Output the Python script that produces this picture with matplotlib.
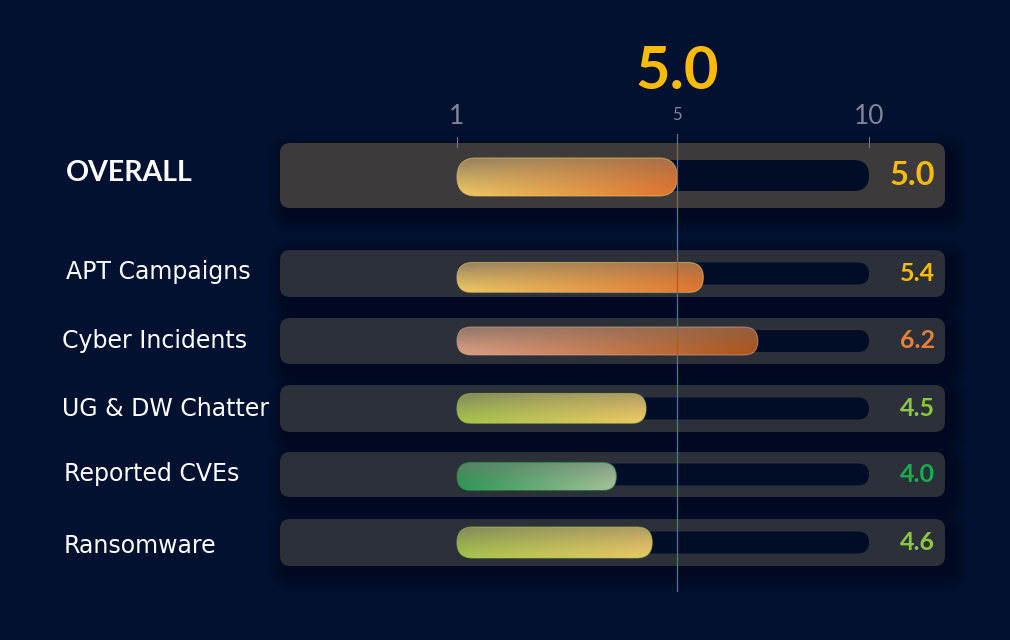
import numpy as np
import matplotlib
matplotlib.use("Agg")
import matplotlib.pyplot as plt
from matplotlib.patches import FancyBboxPatch
from matplotlib.colors import to_rgb

# ---------------- data ----------------
categories = ["OVERALL", "APT Campaigns", "Cyber Incidents",
              "UG & DW Chatter", "Reported CVEs", "Ransomware"]
scores = [5.0, 5.4, 6.2, 4.5, 4.0, 4.6]
headline_score = 5.0
scale_labels = ["1", "5", "10"]

# ---------------- styles / layout (pixels) ----------------
W, H = 1010, 640
BG = "#01112f"
FONT = ["Lato", "DejaVu Sans"]
LABEL_FONT = ["DejaVu Sans"]
value_colors = ["#fbbb00", "#fbbb00", "#ea7f3b", "#8dc63f", "#16ac4f", "#8dc63f"]
grad_left = ["#ecc863", "#ecc863", "#dba084", "#a3c44c", "#2a9853", "#a3c44c"]
grad_right = ["#e0732e", "#e0752f", "#ad5419", "#eec766", "#a6c29c", "#eec766"]
mute_cols = ["#7a6a5e", "#7a6a5e", "#7a6a62", "#7a7660", "#6a7a6c", "#7a7660"]
panel_cols = ["#3d3a3b", "#2c3139", "#2c3139", "#2c3139", "#2c3139", "#2c3139"]
panel_rows = [(143, 208), (250, 297), (318, 364), (385, 432), (452, 497), (519, 566)]
track_h = [31, 22, 22, 22, 22, 22]
bar_h = [38, 30, 28, 30, 28, 31]
bar_dy = [1.5, 4, 0, 0, 2, 0]
label_x = [66, 66, 62, 62, 64, 64]
label_y = [173, 272, 341, 409, 474, 546]
PANEL_X0, PANEL_X1 = 280, 945
TRACK_X0, TRACK_X1 = 457, 869
TRACK_MAX = 7.7
POWER = 1.45

fig = plt.figure(figsize=(W / 100, H / 100), dpi=100, facecolor=BG)

# scale axes spanning the track: value -> pixel through a power scale
sx = fig.add_axes([TRACK_X0 / W, 0, (TRACK_X1 - TRACK_X0) / W, 1])
fwd = lambda v: np.sign(v) * np.abs(v) ** POWER
inv = lambda v: np.sign(v) * np.abs(v) ** (1.0 / POWER)
sx.set_xscale("function", functions=(fwd, inv))
sx.set_xlim(0, TRACK_MAX)
sx.axis("off")


def px(v):
    return sx.transData.transform((v, 0.5))[0]


ax = fig.add_axes([0, 0, 1, 1])
ax.set_xlim(0, W)
ax.set_ylim(H, 0)
ax.axis("off")
ax.set_facecolor(BG)


def rbox(x0, y0, x1, y1, r, **kw):
    p = FancyBboxPatch((x0, y0), x1 - x0, y1 - y0,
                       boxstyle=f"round,pad=0,rounding_size={r}", **kw)
    ax.add_patch(p)
    return p


# panels with soft shadows
for i, (y0, y1) in enumerate(panel_rows):
    for k in range(8):
        g = 2 + k * 2.2
        rbox(PANEL_X0 - g + 6, y0 - g + 8, PANEL_X1 + g + 6, y1 + g + 8, 10 + g,
             facecolor="#000816", edgecolor="none", alpha=0.07, zorder=1)
    rbox(PANEL_X0, y0, PANEL_X1, y1, 10, facecolor=panel_cols[i],
         edgecolor="none", zorder=2)

# tracks, bars, labels
for i, (cat, val) in enumerate(zip(categories, scores)):
    y0, y1 = panel_rows[i]
    yc = (y0 + y1) / 2
    th = track_h[i]
    rbox(TRACK_X0, yc - th / 2, TRACK_X1, yc + th / 2, th / 2,
         facecolor="#010c27", edgecolor="none", zorder=3)

    bh = bar_h[i]
    by = yc + bar_dy[i]
    xr = px(val)
    xl = px(0)
    clip = rbox(xl, by - bh / 2, xr, by + bh / 2, bh / 2,
                facecolor="none", edgecolor="none", zorder=4)
    nx, ny = 240, 48
    tx = np.linspace(0, 1, nx)[None, :, None]
    ty = np.linspace(0, 1, ny)[:, None, None]
    cL = np.array(to_rgb(grad_left[i]))
    cR = np.array(to_rgb(grad_right[i]))
    cM = np.array(to_rgb(mute_cols[i]))
    base = cL * (1 - tx) + cR * tx
    w = 0.55 * (1 - ty) ** 1.3 + 0.25 * (1 - tx) ** 3 * (1 - ty)
    w = np.clip(w, 0, 0.8)
    img = base * (1 - w) + cM * w
    im = ax.imshow(img, extent=(xl, xr, by + bh / 2, by - bh / 2),
                   aspect="auto", zorder=4, interpolation="bilinear")
    im.set_clip_path(clip)
    rbox(xl, by - bh / 2, xr, by + bh / 2, bh / 2, facecolor="none",
         edgecolor=grad_left[i], linewidth=0.8, alpha=0.6, zorder=5)

    if i == 0:
        ax.text(label_x[i], label_y[i], cat, color="white", fontsize=20.5,
                fontweight="bold", family=FONT, ha="left", va="center", zorder=6)
        ax.text(935, yc, f"{val:.1f}", color=value_colors[i], fontsize=23.5,
                fontweight="bold", family=FONT, ha="right", va="center", zorder=6)
    else:
        ax.text(label_x[i], label_y[i], cat, color="white", fontsize=17,
                family=LABEL_FONT, ha="left", va="center", zorder=6)
        ax.text(935, yc, f"{val:.1f}", color=value_colors[i], fontsize=18,
                fontweight="bold", family=FONT, ha="right", va="center", zorder=6)

# reference line at the overall score
xo = px(headline_score)
ax.plot([xo, xo], [134, 591], color="#8a6458", linewidth=0.9, zorder=7)

# scale labels: range ends at the track ends, marker at the overall score
ax.text(TRACK_X0, 116, scale_labels[0], color="#7f879c", fontsize=19,
        family=FONT, ha="center", va="center")
ax.text(TRACK_X1, 116, scale_labels[2], color="#7f879c", fontsize=19,
        family=FONT, ha="center", va="center")
ax.text(xo, 115, scale_labels[1], color="#7f879c", fontsize=12,
        family=FONT, ha="center", va="center")
for xt in (TRACK_X0, TRACK_X1):
    ax.plot([xt, xt], [137, 147], color="#6e7690", linewidth=0.8, zorder=3)

# headline
ax.text(xo, 72, f"{headline_score:.1f}", color="#fbbb00", fontsize=43,
        fontweight="bold", family=FONT, ha="center", va="center")

ax.set_xlim(0, W)
ax.set_ylim(H, 0)
fig.savefig("out.png", dpi=100, facecolor=BG)
